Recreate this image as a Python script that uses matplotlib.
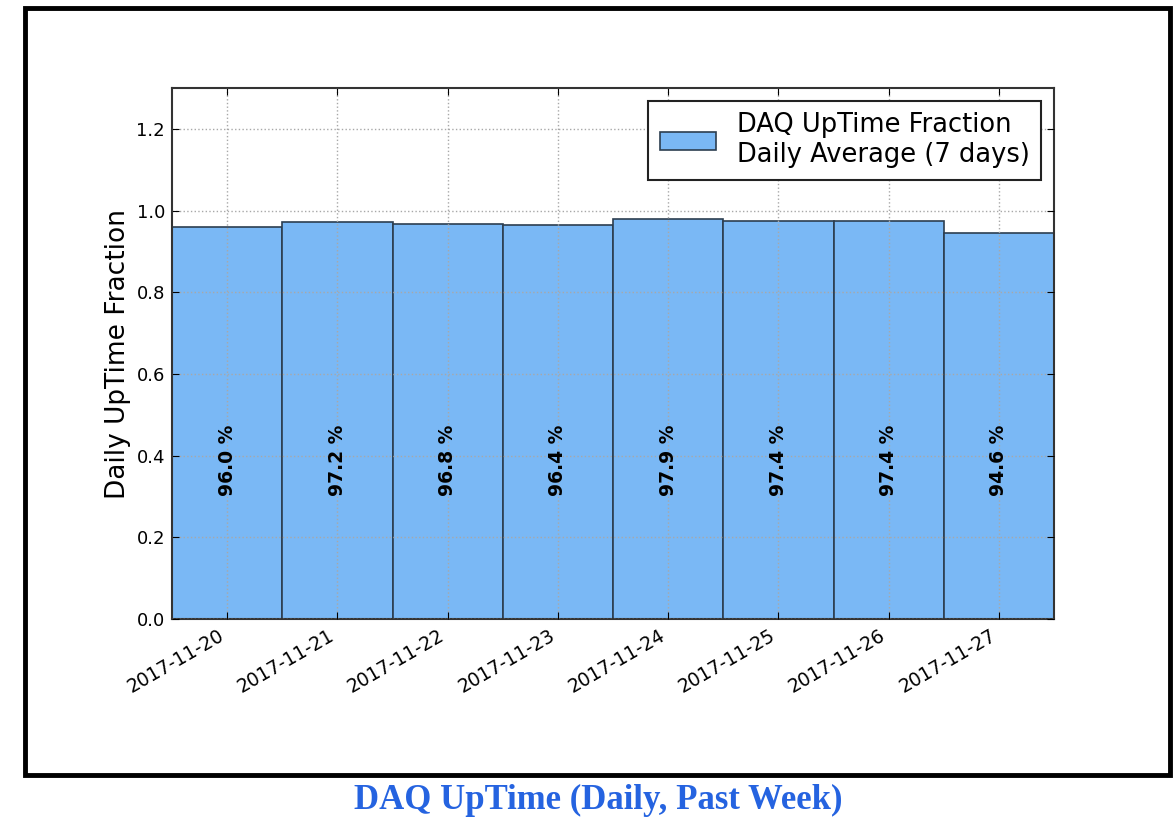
import matplotlib
matplotlib.use("Agg")
import matplotlib.pyplot as plt
from matplotlib.patches import Rectangle
import numpy as np

days = ["2017-11-20", "2017-11-21", "2017-11-22", "2017-11-23",
        "2017-11-24", "2017-11-25", "2017-11-26", "2017-11-27"]
uptime = [0.960, 0.972, 0.968, 0.964, 0.979, 0.974, 0.974, 0.946]
yticks = [0.0, 0.2, 0.4, 0.6, 0.8, 1.0, 1.2]

bar_color = "#7ab8f5"

fig = plt.figure(figsize=(11.76, 8.23), dpi=100)
ax = fig.add_axes([172 / 1176, 1 - 619 / 823, (1054 - 172) / 1176, (619 - 88) / 823])

x = np.arange(len(days))
ax.bar(x, uptime, width=1.0, color=bar_color, edgecolor="#2c3e50", linewidth=1.2,
       label="DAQ UpTime Fraction\nDaily Average (7 days)")

for xi, v in zip(x, uptime):
  ax.text(xi, 0.3, "{:.1f} %".format(v * 100), rotation=90, ha="center", va="bottom",
          fontsize=13.5, fontweight="bold", color="black")

ax.set_xlim(-0.5, len(days) - 0.5)
ax.set_ylim(0, 1.3)
ax.set_xticks(x)
ax.set_xticklabels(days, rotation=30, ha="right", fontsize=13.5)
ax.set_yticks(yticks)
ax.set_yticklabels(["{:.1f}".format(t) for t in yticks], fontsize=13)
ax.tick_params(direction="in", top=True, right=True, length=5, pad=5)
ax.set_ylabel("Daily UpTime Fraction", fontsize=19, labelpad=4)
ax.grid(True, linestyle=":", color="#a8a8a8", linewidth=1)
ax.set_axisbelow(False)
for s in ax.spines.values():
  s.set_linewidth(1.5)
  s.set_color("#333333")

leg = ax.legend(loc="upper right", fontsize=18.5, fancybox=False, framealpha=1,
                edgecolor="#222222", handlelength=2.2, borderpad=0.45,
                borderaxespad=0.5, labelspacing=0.3)
leg.get_frame().set_linewidth(1.5)

# outer frame around the plot
fig.patches.append(Rectangle((25 / 1176, 1 - 775 / 823), (1170 - 25) / 1176, (775 - 8) / 823,
                             transform=fig.transFigure, fill=False, edgecolor="black",
                             linewidth=3.5, zorder=10))

fig.text(598 / 1176, 1 - 800 / 823, "DAQ UpTime (Daily, Past Week)", ha="center", va="center",
         fontsize=25, fontweight="bold", family="Liberation Serif", color="#2563e0")

fig.savefig("out.png", dpi=100)
